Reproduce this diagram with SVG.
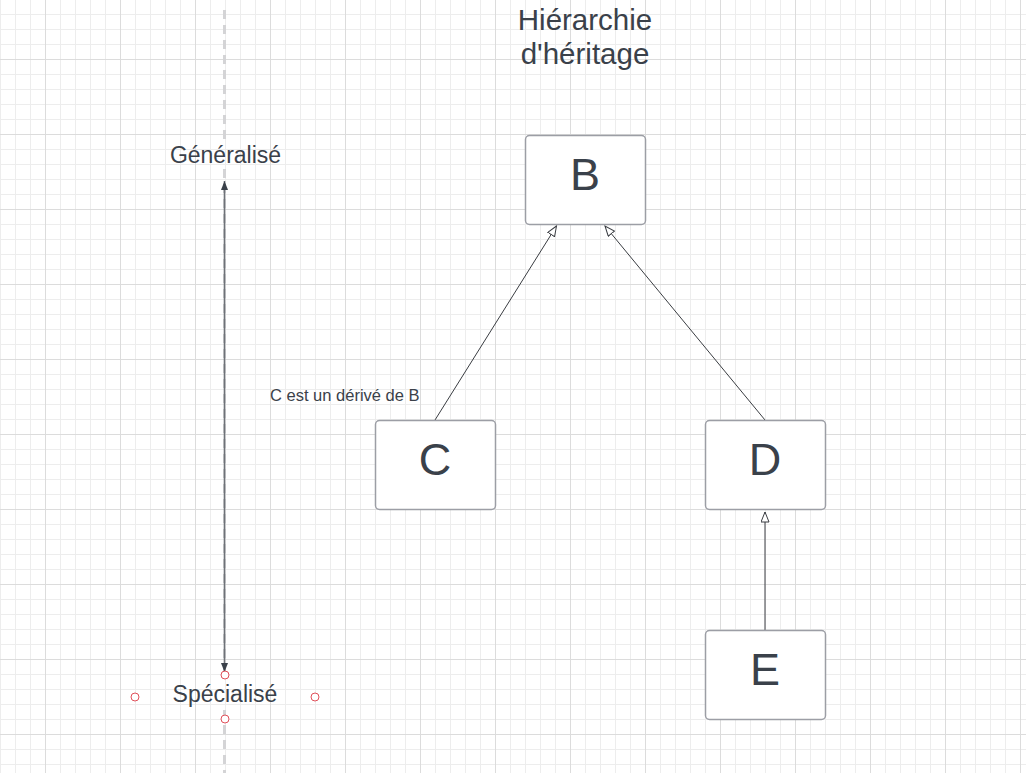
<svg xmlns="http://www.w3.org/2000/svg" width="1026" height="773" viewBox="0 0 1026 773">
<style>
.t{font-family:"Liberation Sans",Arial,sans-serif;fill:#3a414a}
.box{fill:#ffffff;stroke:#9c9ea5;stroke-width:1.5}
.lbl{font-size:45px;text-anchor:middle}
.edge{stroke:#3a3d42;stroke-width:1;fill:none}
.hnd{fill:#ffffff;stroke:#e0505a;stroke-width:1}
</style>
<defs>
<pattern id="grid" patternUnits="userSpaceOnUse" x="45" y="59" width="75" height="75">
<path d="M15.5 0V75M30.5 0V75M45.5 0V75M60.5 0V75M0 15.5H75M0 30.5H75M0 45.5H75M0 60.5H75" stroke="#ededed" stroke-width="1" fill="none"/>
<path d="M0.5 0V75M0 0.5H75" stroke="#dcdcdc" stroke-width="1" fill="none"/>
</pattern>
<marker id="hollow" markerUnits="userSpaceOnUse" markerWidth="12" markerHeight="10" refX="10.5" refY="4.5" orient="auto">
<path d="M0.5,0.5 L10.5,4.5 L0.5,8.5 z" fill="#ffffff" stroke="#3a3d42" stroke-width="1"/>
</marker>
<marker id="solid" markerUnits="userSpaceOnUse" markerWidth="10" markerHeight="8" refX="9" refY="3.5" orient="auto-start-reverse">
<path d="M0,0 L9,3.5 L0,7 z" fill="#3a414a"/>
</marker>
</defs>
<rect width="1026" height="773" fill="#ffffff"/>
<rect width="1026" height="773" fill="url(#grid)"/>

<g id="title">
<text class="t" x="585" y="29.5" font-size="29.5" text-anchor="middle">Hiérarchie</text>
<text class="t" x="585" y="63.5" font-size="29.5" text-anchor="middle">d'héritage</text>
</g>

<g id="axis">
<path d="M224.5 10V140M224.5 169V676M224.5 710V773" stroke="#d4d4d6" stroke-width="3" stroke-dasharray="9 6" fill="none"/>
<line x1="224.5" y1="181" x2="224.5" y2="672" stroke="#6e7278" stroke-width="1.6" marker-start="url(#solid)" marker-end="url(#solid)"/>
<text class="t" x="225.5" y="162.5" font-size="23" text-anchor="middle">Généralisé</text>
<text class="t" x="225" y="702" font-size="23" text-anchor="middle">Spécialisé</text>
<circle class="hnd" cx="225" cy="675" r="4"/>
<circle class="hnd" cx="135" cy="697" r="4"/>
<circle class="hnd" cx="315" cy="697" r="4"/>
<circle class="hnd" cx="225" cy="719" r="4"/>
</g>

<g id="connectors">
<line class="edge" x1="435" y1="420" x2="556.5" y2="226" marker-end="url(#hollow)"/>
<line class="edge" x1="765" y1="420" x2="605" y2="226" marker-end="url(#hollow)"/>
<line class="edge" x1="765" y1="630" x2="765" y2="512" stroke="#7a7d82" stroke-width="1.3" marker-end="url(#hollow)"/>
<text class="t" x="270" y="401" font-size="16.5">C est un dérivé de B</text>
</g>

<g id="node-B">
<rect class="box" x="525.5" y="135.5" width="120" height="89" rx="4"/>
<text class="t lbl" x="585" y="190">B</text>
</g>
<g id="node-C">
<rect class="box" x="375.5" y="420.5" width="120" height="89" rx="4"/>
<text class="t lbl" x="435" y="475">C</text>
</g>
<g id="node-D">
<rect class="box" x="705.5" y="420.5" width="120" height="89" rx="4"/>
<text class="t lbl" x="765" y="475">D</text>
</g>
<g id="node-E">
<rect class="box" x="705.5" y="630.5" width="120" height="89" rx="4"/>
<text class="t lbl" x="765" y="685">E</text>
</g>
</svg>
